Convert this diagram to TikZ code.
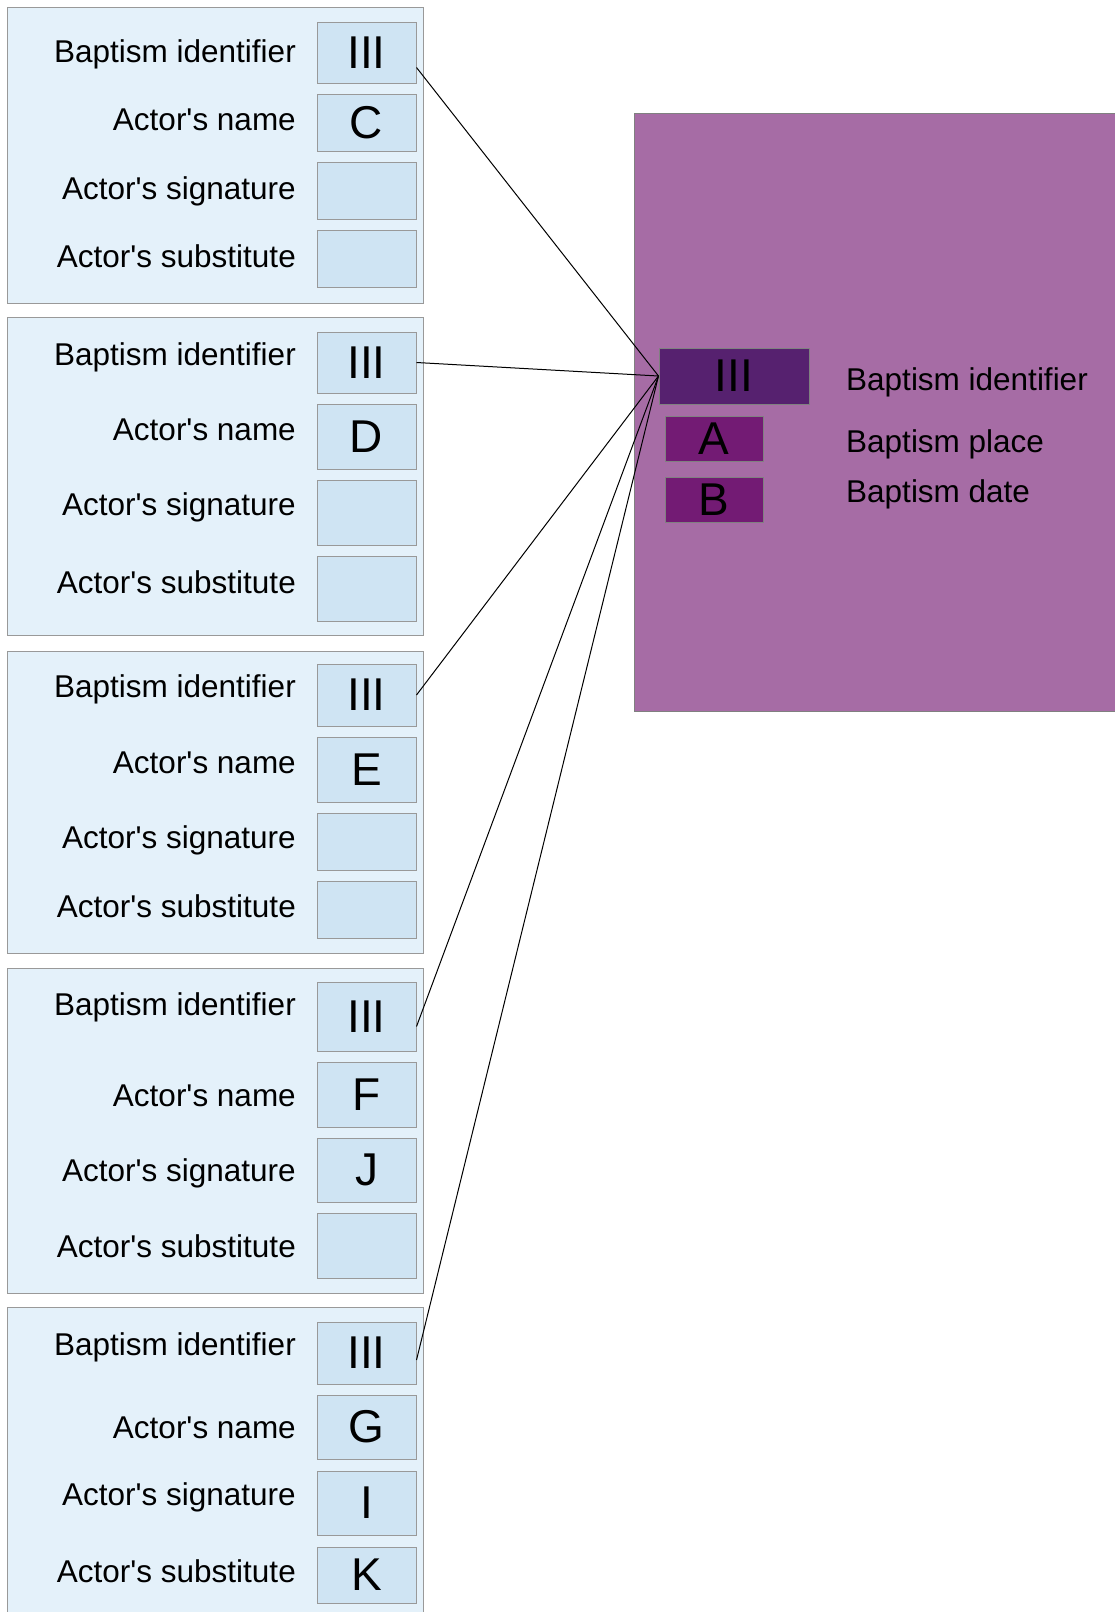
\documentclass[tikz,border=0pt]{standalone}
\usepackage{fontspec}
\setmainfont{Liberation Sans}[Ligatures=TeXOff]

\definecolor{actorfill}{HTML}{E4F1FA}
\definecolor{cellfill}{HTML}{CFE4F3}
\definecolor{boxline}{HTML}{999999}
\definecolor{baptismfill}{HTML}{A66CA5}
\definecolor{idfill}{HTML}{56216F}
\definecolor{valfill}{HTML}{731B74}

\begin{document}
\begin{tikzpicture}[x=1pt, y=-1pt,
    every node/.style={font=\fontsize{31.5}{36}\selectfont},
    actorbox/.style={draw=boxline, fill=actorfill, line width=1pt, minimum width=416pt, inner sep=0pt},
    actorcell/.style={draw=boxline, fill=cellfill, line width=1pt, minimum width=99pt, inner sep=0pt, font=\fontsize{46}{50}\selectfont},
    fieldlabel/.style={anchor=base east, inner sep=0pt},
    baptismbox/.style={draw=gray, fill=baptismfill, line width=1pt, inner sep=0pt},
    idcell/.style={draw=gray, fill=idfill, line width=1pt, inner sep=0pt, font=\fontsize{46}{50}\selectfont},
    valcell/.style={draw=gray, fill=valfill, line width=1pt, inner sep=0pt, minimum width=98pt, minimum height=45pt, font=\fontsize{46}{50}\selectfont}]

    \useasboundingbox (0,0) rectangle (1114,1612);

    % Baptism record
    \node (baptism) at (877,412) [baptismbox, minimum width=486pt, minimum height=598pt] {};
    \node (bid) at (734,376) [idcell, minimum width=150pt, minimum height=56pt] {III};
    \node (bplace) at (714,438.5) [valcell] {A};
    \node (bdate) at (714,499.5) [valcell] {B};
    \node (bidlabel) at (846,390) [anchor=base west, inner sep=0pt] {Baptism identifier};
    \node (bplacelabel) at (846,452) [anchor=base west, inner sep=0pt] {Baptism place};
    \node (bdatelabel) at (846,502) [anchor=base west, inner sep=0pt] {Baptism date};

    % Actor 1
    \node (actor1) at (215,155) [actorbox, minimum height=296pt] {};
    \node (id1) at (366.5,52.5) [actorcell, minimum height=61pt] {III};
    \node (name1) at (366.5,122.5) [actorcell, minimum height=57pt] {C};
    \node (sig1) at (366.5,190.5) [actorcell, minimum height=57pt] {};
    \node (sub1) at (366.5,258.5) [actorcell, minimum height=57pt] {};
    \node (idlabel1) at (296,62) [fieldlabel] {Baptism identifier};
    \node (namelabel1) at (296,130) [fieldlabel] {Actor's name};
    \node (siglabel1) at (296,199) [fieldlabel] {Actor's signature};
    \node (sublabel1) at (296,267) [fieldlabel] {Actor's substitute};

    % Actor 2
    \node (actor2) at (215,476) [actorbox, minimum height=318pt] {};
    \node (id2) at (366.5,362.5) [actorcell, minimum height=61pt] {III};
    \node (name2) at (366.5,436.5) [actorcell, minimum height=65pt] {D};
    \node (sig2) at (366.5,512.5) [actorcell, minimum height=65pt] {};
    \node (sub2) at (366.5,588.5) [actorcell, minimum height=65pt] {};
    \node (idlabel2) at (296,365) [fieldlabel] {Baptism identifier};
    \node (namelabel2) at (296,440) [fieldlabel] {Actor's name};
    \node (siglabel2) at (296,515) [fieldlabel] {Actor's signature};
    \node (sublabel2) at (296,593) [fieldlabel] {Actor's substitute};

    % Actor 3
    \node (actor3) at (215,802) [actorbox, minimum height=302pt] {};
    \node (id3) at (366.5,695) [actorcell, minimum height=62pt] {III};
    \node (name3) at (366.5,769.5) [actorcell, minimum height=65pt] {E};
    \node (sig3) at (366.5,841.5) [actorcell, minimum height=57pt] {};
    \node (sub3) at (366.5,909.5) [actorcell, minimum height=57pt] {};
    \node (idlabel3) at (296,697) [fieldlabel] {Baptism identifier};
    \node (namelabel3) at (296,773) [fieldlabel] {Actor's name};
    \node (siglabel3) at (296,848) [fieldlabel] {Actor's signature};
    \node (sublabel3) at (296,917) [fieldlabel] {Actor's substitute};

    % Actor 4
    \node (actor4) at (215,1130.5) [actorbox, minimum height=325pt] {};
    \node (id4) at (366.5,1016.5) [actorcell, minimum height=69pt] {III};
    \node (name4) at (366.5,1094.5) [actorcell, minimum height=65pt] {F};
    \node (sig4) at (366.5,1170) [actorcell, minimum height=64pt] {J};
    \node (sub4) at (366.5,1245.5) [actorcell, minimum height=65pt] {};
    \node (idlabel4) at (296,1015) [fieldlabel] {Baptism identifier};
    \node (namelabel4) at (296,1106) [fieldlabel] {Actor's name};
    \node (siglabel4) at (296,1181) [fieldlabel] {Actor's signature};
    \node (sublabel4) at (296,1257) [fieldlabel] {Actor's substitute};

    % Actor 5
    \node (actor5) at (215,1463.5) [actorbox, minimum height=313pt] {};
    \node (id5) at (366.5,1353) [actorcell, minimum height=62pt] {III};
    \node (name5) at (366.5,1427) [actorcell, minimum height=64pt] {G};
    \node (sig5) at (366.5,1503) [actorcell, minimum height=64pt] {I};
    \node (sub5) at (366.5,1575) [actorcell, minimum height=56pt] {K};
    \node (idlabel5) at (296,1355) [fieldlabel] {Baptism identifier};
    \node (namelabel5) at (296,1438) [fieldlabel] {Actor's name};
    \node (siglabel5) at (296,1505) [fieldlabel] {Actor's signature};
    \node (sublabel5) at (296,1582) [fieldlabel] {Actor's substitute};

    % Edges
    \draw[line width=1pt] ([yshift=-15pt]id1.east) -- (bid.west);
    \draw[line width=1pt] (id2.east) -- (bid.west);
    \draw[line width=1pt] (id3.east) -- (bid.west);
    \draw[line width=1pt] ([yshift=-10pt]id4.east) -- (bid.west);
    \draw[line width=1pt] ([yshift=-7pt]id5.east) -- (bid.west);

\end{tikzpicture}
\end{document}
